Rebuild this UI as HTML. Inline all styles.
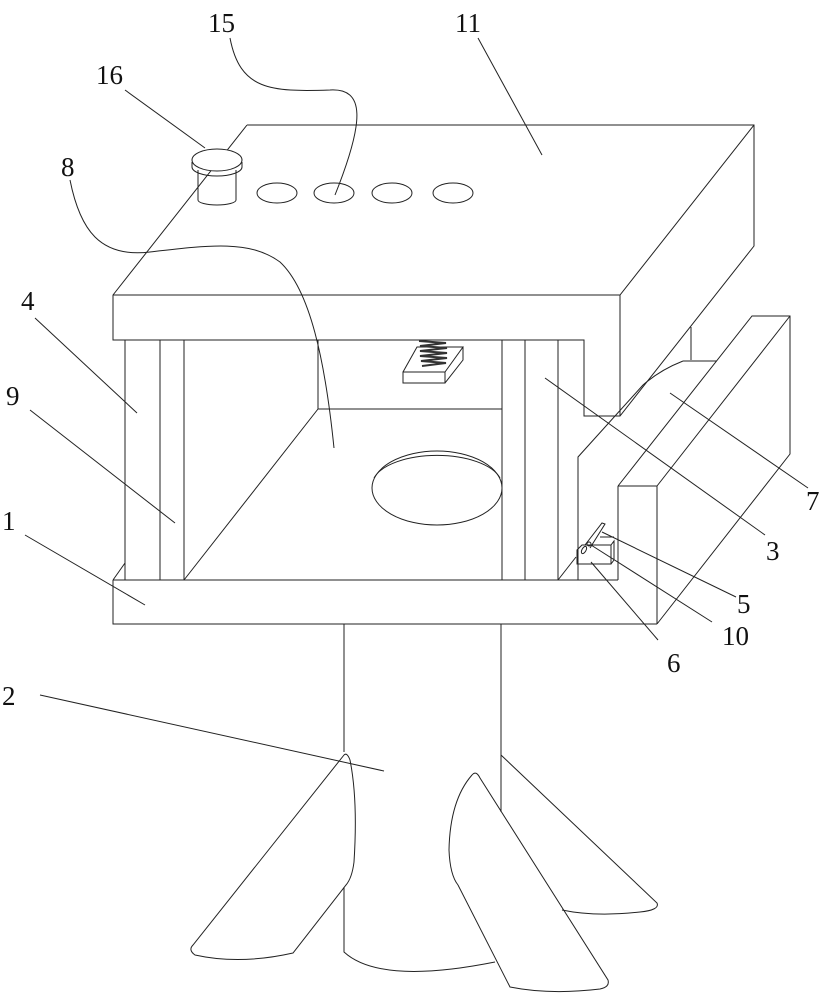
<!DOCTYPE html>
<html><head><meta charset="utf-8"><style>
html,body{margin:0;padding:0;background:#fff;}
svg{display:block;}
text{font-family:"Liberation Serif",serif;font-size:27px;fill:#111;}
</style></head><body>
<svg width="827" height="1000" viewBox="0 0 827 1000" xmlns="http://www.w3.org/2000/svg">
<g fill="none" stroke="#222" stroke-width="1">
<path d="M247,125 L754,125 L754,246 L620,416 L584,416 L584,340 L113,340 L113,295 L247,125"/>
<path d="M113,295 L620,295 L754,125"/>
<path d="M620,295 L620,416"/>
<path d="M691,327 L691,360"/>
<path d="M198,170 L198,200 A19,5 0 0 0 236,200 L236,170"/>
<ellipse cx="217" cy="160" rx="25" ry="11" fill="#fff"/>
<path d="M192,162 L192,167 A25,9 0 0 0 242,167 L242,162"/>
<ellipse cx="277" cy="193" rx="20" ry="10"/>
<ellipse cx="334" cy="193" rx="20" ry="10"/>
<ellipse cx="392" cy="193" rx="20" ry="10"/>
<ellipse cx="453" cy="193" rx="20" ry="10"/>
<path d="M125,340 L125,580 M160,340 L160,580 M184,340 L184,580"/>
<path d="M502,340 L502,580 M525,340 L525,580 M558,340 L558,580"/>
<path d="M318,340 L318,409 L502,409 M318,409 L184,580"/>
<ellipse cx="437" cy="488" rx="65" ry="37"/>
<path d="M374,478 A65,30 0 0 1 500,478"/>
<path d="M403,372 L445,372 L445,383 L403,383 Z M403,372 L417,347 L463,347 L445,372 M463,347 L463,360 L445,383" fill="#fff"/>
<path d="M419,341 L446,343 L420,346 L447,348 L420,351 L447,353 L420,356 L447,358 L421,361 L446,363 L422,366" stroke="#333" stroke-width="2"/>
<path d="M113,580 L618,580 M113,580 L113,624 L657,624 M113,580 L125,563"/>
<path d="M683,361 L717,361"/>
<path d="M683,361 Q660,370 643,385 L578,457 L578,580 L618,580"/>
<path d="M558,580 L576,557"/>
<path d="M618,486 L657,486 L657,624 M618,486 L618,580"/>
<path d="M618,486 L752,316 L790,316 L790,454 L657,624 M657,486 L790,316"/>
<path d="M577,550 L577,564 L611,564 L611,545 L582,545 Z M611,545 L614,541 L614,560 L611,564 M585,545 L602,523 L605,524 L590,548 M600,537 L614,537"/>
<ellipse cx="584" cy="550" rx="2" ry="4" transform="rotate(30 584 550)"/>
<ellipse cx="589" cy="544" rx="2" ry="2"/>
<path d="M344,624 L344,752 M344,887 L344,952 Q380,985 495,962 M501,624 L501,812"/>
<path d="M344,755 Q347,752 350,760 Q358,800 354,862 Q352,878 346,885 L293,953 Q240,965 195,955 Q188,950 193,945 L344,755"/>
<path d="M472,775 Q476,770 480,778 L608,980 Q610,987 600,989 Q550,995 510,987 L458,885 Q450,875 449,850 Q450,800 472,775"/>
<path d="M501,755 L657,903 Q660,910 640,912 Q595,917 562,910"/>
<path d="M478,38 L542,155"/>
<path d="M125,90 L205,148"/>
<path d="M230,38 C240,90 270,92 330,90 C365,88 365,120 335,195"/>
<path d="M70,180 C80,230 100,258 150,252 C210,245 250,240 280,262 C310,290 325,360 334,448"/>
<path d="M35,318 L137,413"/>
<path d="M30,410 L175,523"/>
<path d="M25,535 L145,605"/>
<path d="M40,695 L384,771"/>
<path d="M545,378 L765,535"/>
<path d="M670,393 L808,488"/>
<path d="M602,532 L736,597"/>
<path d="M591,545 L712,622"/>
<path d="M591,562 L658,640"/>
</g>
<text x="208" y="32">15</text>
<text x="455" y="32">11</text>
<text x="96" y="84">16</text>
<text x="61" y="176">8</text>
<text x="21" y="310">4</text>
<text x="6" y="405">9</text>
<text x="2" y="530">1</text>
<text x="2" y="705">2</text>
<text x="766" y="560">3</text>
<text x="806" y="510">7</text>
<text x="737" y="613">5</text>
<text x="722" y="645">10</text>
<text x="667" y="672">6</text>
</svg>
</body></html>
